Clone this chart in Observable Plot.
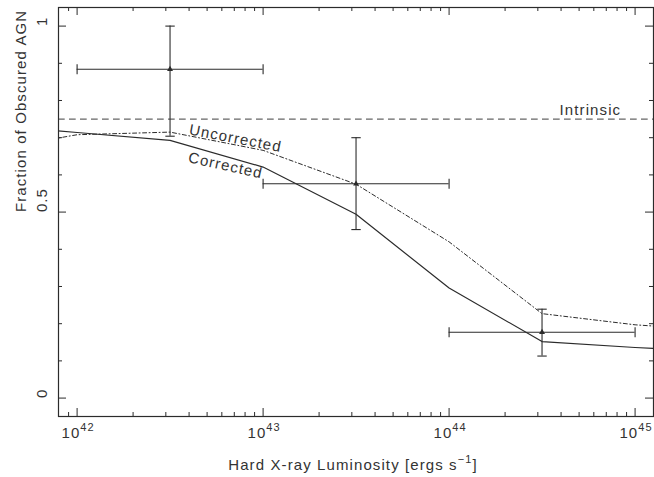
<!DOCTYPE html>
<html><head><meta charset="utf-8">
<script src="https://cdn.jsdelivr.net/npm/d3@7"></script>
<script src="https://cdn.jsdelivr.net/npm/@observablehq/plot@0.6"></script>
<style>
html,body{margin:0;padding:0;background:#fff;}
svg text{font-family:"Liberation Sans",Arial,sans-serif;letter-spacing:1.1px;}
</style></head><body><div id="chart"></div>
<script>
// Model curves
const luminosity = [3.16e41, 1e42, 3.16e42, 1e43, 3.16e43, 1e44, 3.16e44, 1e45, 3.16e45];
const corrected = [0.735, 0.714, 0.693, 0.621, 0.494, 0.296, 0.152, 0.136, 0.125];
const uncorrected = [0.664, 0.708, 0.715, 0.666, 0.575, 0.420, 0.227, 0.197, 0.180];
// Binned measurements
const binCenter = [3.16e42, 3.16e43, 3.16e44];
const binLow = [1e42, 1e43, 1e44];
const binHigh = [1e43, 1e44, 1e45];
const fraction = [0.884, 0.576, 0.177];
const fractionLow = [0.704, 0.453, 0.113];
const fractionHigh = [1.0, 0.700, 0.239];
const intrinsic = 0.75;
// Ticks
const xMajorTicks = [1e42, 1e43, 1e44, 1e45];
const xTickExponents = ["42", "43", "44", "45"];
const xMinorTicks = [9e41, 2e42, 3e42, 4e42, 5e42, 6e42, 7e42, 8e42, 9e42,
  2e43, 3e43, 4e43, 5e43, 6e43, 7e43, 8e43, 9e43,
  2e44, 3e44, 4e44, 5e44, 6e44, 7e44, 8e44, 9e44];
const yMajorTicks = [0, 0.5, 1];
const yMinorTicks = [0.1, 0.2, 0.3, 0.4, 0.6, 0.7, 0.8, 0.9];
const yTickLabels = ["0", "0.5", "1"];

const W = 654, H = 477, mL = 58, mR = 1, mT = 7, mB = 61;
const iW = W - mL - mR, iH = H - mT - mB;
const ink = "#2b2b2b";

const curves = luminosity.map((L, i) => ({L, c: corrected[i], u: uncorrected[i]}));
const bins = binCenter.map((L, i) => ({L, lo: binLow[i], hi: binHigh[i], f: fraction[i], flo: fractionLow[i], fhi: fractionHigh[i]}));

const hCap = {draw(ctx, size) { const r = Math.sqrt(size / Math.PI); ctx.moveTo(-r, 0); ctx.lineTo(r, 0); }};
const vCap = {draw(ctx, size) { const r = Math.sqrt(size / Math.PI); ctx.moveTo(0, -r); ctx.lineTo(0, r); }};

const majorLen = 8, minorLen = 4;
const tickStyle = {stroke: ink, strokeWidth: 1};

const chart = Plot.plot({
  width: W, height: H,
  marginLeft: mL, marginRight: mR, marginTop: mT, marginBottom: mB,
  style: {background: "white", fontSize: "15px", fontFamily: "Liberation Sans, Arial, sans-serif", color: ink},
  x: {type: "log", domain: [Math.pow(10, 41.9), Math.pow(10, 45.099)], axis: null},
  y: {domain: [-0.0495, 1.05], axis: null},
  marks: [
    // ticks: bottom/top
    Plot.ruleX(xMajorTicks, {x: d => d, insetTop: iH - majorLen, ...tickStyle}),
    Plot.ruleX(xMinorTicks, {x: d => d, insetTop: iH - minorLen, ...tickStyle}),
    Plot.ruleX(xMajorTicks, {x: d => d, insetBottom: iH - majorLen, ...tickStyle}),
    Plot.ruleX(xMinorTicks, {x: d => d, insetBottom: iH - minorLen, ...tickStyle}),
    // ticks: left/right
    Plot.ruleY(yMajorTicks, {y: d => d, insetRight: iW - majorLen, ...tickStyle}),
    Plot.ruleY(yMinorTicks, {y: d => d, insetRight: iW - minorLen, ...tickStyle}),
    Plot.ruleY(yMajorTicks, {y: d => d, insetLeft: iW - majorLen, ...tickStyle}),
    Plot.ruleY(yMinorTicks, {y: d => d, insetLeft: iW - minorLen, ...tickStyle}),
    // intrinsic
    Plot.ruleY([intrinsic], {y: d => d, stroke: "#666", strokeWidth: 1.3, strokeDasharray: "6.7,4.3"}),
    // curves
    Plot.line(curves, {x: "L", y: "c", stroke: ink, strokeWidth: 1.2, clip: true}),
    Plot.line(curves, {x: "L", y: "u", stroke: ink, strokeWidth: 1, strokeDasharray: "4,2.5,1,2.5", clip: true}),
    // error bars
    Plot.ruleX(bins, {x: "L", y1: "flo", y2: "fhi", stroke: ink, strokeWidth: 1.1}),
    Plot.ruleY(bins, {y: "f", x1: "lo", x2: "hi", stroke: ink, strokeWidth: 1.1}),
    Plot.dot(bins, {x: "L", y: "flo", symbol: hCap, r: 4.7, stroke: ink, fill: "none", strokeWidth: 1.1}),
    Plot.dot(bins, {x: "L", y: "fhi", symbol: hCap, r: 4.7, stroke: ink, fill: "none", strokeWidth: 1.1}),
    Plot.dot(bins, {x: "lo", y: "f", symbol: vCap, r: 5, stroke: ink, fill: "none", strokeWidth: 1.1}),
    Plot.dot(bins, {x: "hi", y: "f", symbol: vCap, r: 5, stroke: ink, fill: "none", strokeWidth: 1.1}),
    Plot.dot(bins, {x: "L", y: "f", symbol: "triangle", r: 2.2, fill: ink, stroke: "none"}),
    Plot.frame({stroke: ink, strokeWidth: 1.2}),
    // curve labels
    Plot.text(["Intrinsic"], {x: 5.75e44, y: intrinsic, text: d => d, lineAnchor: "bottom", dy: -4, fill: "#333", fontSize: 15}),
    Plot.text(["Uncorrected"], {x: 7.11e42, y: 0.698, text: d => d, rotate: 11, fill: "#333", fontSize: 15}),
    Plot.text(["Corrected"], {x: 6.28e42, y: 0.625, text: d => d, rotate: 12.5, fill: "#333", fontSize: 15}),
    // tick labels (exponent text is turned into a superscript below)
    Plot.text(xMajorTicks, {x: d => d, text: (d, i) => "10^" + xTickExponents[i], frameAnchor: "bottom", lineAnchor: "bottom", dy: 21, dx: 1, fill: "#333", fontSize: 15}),
    Plot.text(yMajorTicks, {y: d => d, text: (d, i) => yTickLabels[i], frameAnchor: "left", lineAnchor: "bottom", rotate: -90, dx: -11.5, fill: "#333", fontSize: 15}),
    // axis titles
    Plot.text(["Fraction of Obscured AGN"], {y: 0.5, text: d => d, frameAnchor: "left", lineAnchor: "bottom", rotate: -90, dx: -33, fill: "#333", fontSize: 15}),
    Plot.text(["Hard X-ray Luminosity [ergs s^\u22121^]"], {text: d => d, frameAnchor: "bottom", lineAnchor: "bottom", dy: 53, dx: -3, fill: "#333", fontSize: 15})
  ]
});

// superscripts: "base^sup" or "base^sup^tail"
d3.select(chart).selectAll("text").each(function() {
  const t = d3.select(this);
  const s = t.text();
  if (!s.includes("^")) return;
  const parts = s.split("^");
  t.text(parts[0]);
  t.append("tspan").attr("dy", -7).attr("font-size", 11).text(parts[1]);
  if (parts.length > 2) t.append("tspan").attr("dy", 7).text(parts[2]);
});

document.getElementById("chart").appendChild(chart);
</script></body></html>
